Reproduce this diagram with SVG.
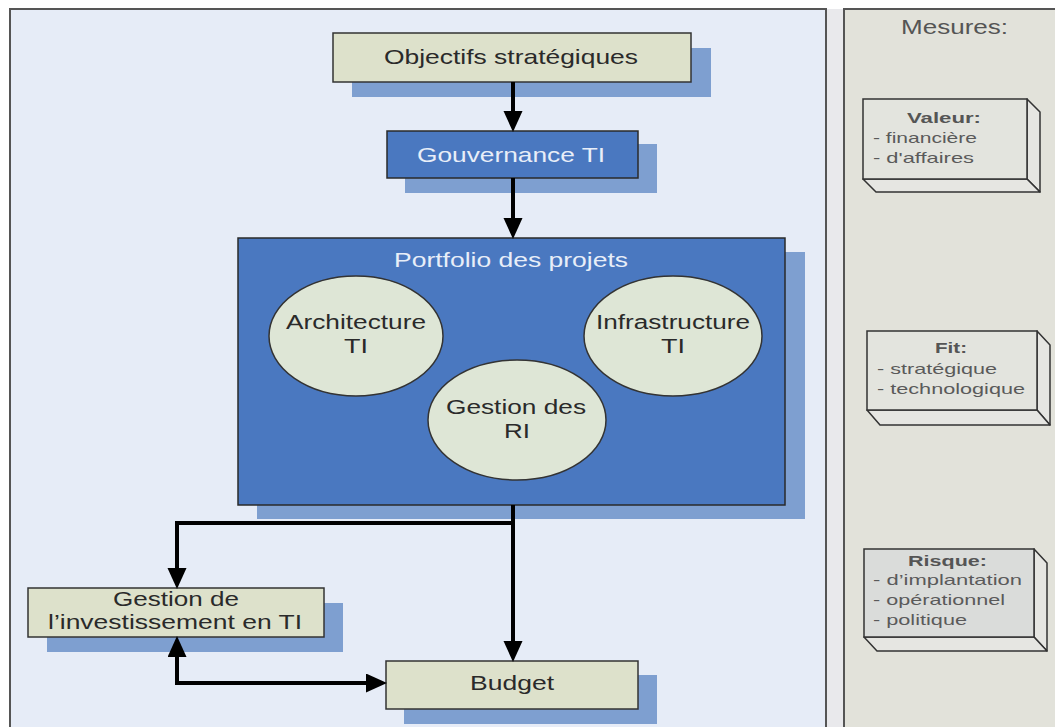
<svg xmlns="http://www.w3.org/2000/svg" width="1055" height="727" viewBox="0 0 1055 727">
<defs>
<style>
.t{font-family:"Liberation Sans",Arial,sans-serif;}
.dark{fill:#2a2a2a;font-size:21px;}
.light{fill:#E8EEF8;font-size:21px;}
.ell{fill:#2a2a2a;font-size:20px;}
.m{fill:#5a5a5a;font-size:15px;}
.mb{fill:#555;font-size:15px;font-weight:bold;}
.beige{fill:#DDE1CB;stroke:#333;stroke-width:1.5;}
.blue{fill:#4A78C0;stroke:#2a2a2a;stroke-width:1.5;}
.shadow{fill:#7E9FD0;}
.ellipse{fill:#DEE6D6;stroke:#333;stroke-width:1.5;}
.cube{fill:#E3E4DE;stroke:#333;stroke-width:1.5;}
.side{fill:#E6E6E2;stroke:#333;stroke-width:1.5;stroke-linejoin:round;}
.conn{fill:none;stroke:#000;stroke-width:4;stroke-linejoin:miter;}
</style>
<marker id="arr" markerUnits="userSpaceOnUse" markerWidth="22" markerHeight="20" refX="16" refY="9.5" orient="auto-start-reverse" viewBox="0 0 22 20">
<path d="M0,0 L21,9.5 L0,19 z" fill="#000"/>
</marker>
</defs>
<rect x="0" y="0" width="1055" height="727" fill="#ffffff"/>
<g id="panels">
<rect x="826" y="9" width="18" height="730" fill="#E9E9EC"/>
<rect x="10" y="9" width="816" height="730" fill="#E6ECF7" stroke="#555" stroke-width="2"/>
<rect x="844" y="9" width="230" height="730" fill="#E2E2DA" stroke="#555" stroke-width="2"/>
</g>
<g id="objectifs">
<rect class="shadow" x="352" y="48" width="359" height="49"/>
<rect class="beige" x="333" y="33" width="358" height="49"/>
<text class="t dark" x="384" y="64" font-size="22" textLength="254" lengthAdjust="spacingAndGlyphs">Objectifs stratégiques</text>
</g>
<g id="gouvernance">
<rect class="shadow" x="405" y="144" width="252" height="49"/>
<rect class="blue" x="387" y="131" width="251" height="47"/>
<text class="t light" x="417" y="162" textLength="188" lengthAdjust="spacingAndGlyphs">Gouvernance TI</text>
</g>
<g id="portfolio">
<rect class="shadow" x="257" y="252" width="548" height="267"/>
<rect class="blue" x="238" y="238" width="547" height="267"/>
<text class="t light" x="394" y="267" textLength="234" lengthAdjust="spacingAndGlyphs">Portfolio des projets</text>
</g>
<g id="architecture">
<ellipse class="ellipse" cx="356" cy="336" rx="87" ry="60"/>
<text class="t ell" x="286" y="329" textLength="140" lengthAdjust="spacingAndGlyphs">Architecture</text>
<text class="t ell" x="344" y="353" textLength="24" lengthAdjust="spacingAndGlyphs">TI</text>
</g>
<g id="infrastructure">
<ellipse class="ellipse" cx="673" cy="336" rx="89" ry="60"/>
<text class="t ell" x="596" y="329" textLength="154" lengthAdjust="spacingAndGlyphs">Infrastructure</text>
<text class="t ell" x="661" y="353" textLength="24" lengthAdjust="spacingAndGlyphs">TI</text>
</g>
<g id="gestion-ri">
<ellipse class="ellipse" cx="517" cy="420" rx="89" ry="60"/>
<text class="t ell" x="446" y="414" textLength="140" lengthAdjust="spacingAndGlyphs">Gestion des</text>
<text class="t ell" x="504" y="438" textLength="26" lengthAdjust="spacingAndGlyphs">RI</text>
</g>
<g id="gestion-investissement">
<rect class="shadow" x="47" y="603" width="296" height="49"/>
<rect class="beige" x="28" y="588" width="296" height="49"/>
<text class="t dark" x="113" y="606" font-size="20" textLength="126" lengthAdjust="spacingAndGlyphs">Gestion de</text>
<text class="t dark" x="48" y="629" font-size="20" textLength="254" lengthAdjust="spacingAndGlyphs">l’investissement en TI</text>
</g>
<g id="budget">
<rect class="shadow" x="404" y="675" width="253" height="49"/>
<rect class="beige" x="386" y="661" width="252" height="48"/>
<text class="t dark" x="470" y="690" font-size="20" textLength="84" lengthAdjust="spacingAndGlyphs">Budget</text>
</g>
<g id="connectors">
<path class="conn" d="M513,82 V127" marker-end="url(#arr)"/>
<path class="conn" d="M513,178 V234" marker-end="url(#arr)"/>
<path class="conn" d="M513,505 V657" marker-end="url(#arr)"/>
<path class="conn" d="M513,505 V523 H177 V584" marker-end="url(#arr)"/>
<path class="conn" d="M177,641 V683 H382" marker-start="url(#arr)" marker-end="url(#arr)"/>
</g>
<g id="mesures">
<text class="t" x="901" y="34" font-size="21" fill="#555" textLength="107" lengthAdjust="spacingAndGlyphs">Mesures:</text>
</g>
<g id="valeur">
<polygon class="side" points="1027,99 1040,112 1040,192 1027,179"/>
<polygon class="side" points="863,179 1027,179 1040,192 876,192"/>
<rect class="cube" x="863" y="99" width="164" height="80"/>
<text class="t mb" x="907" y="123" textLength="74" lengthAdjust="spacingAndGlyphs">Valeur:</text>
<text class="t m" x="873" y="143" textLength="104" lengthAdjust="spacingAndGlyphs">- financière</text>
<text class="t m" x="873" y="163" textLength="101" lengthAdjust="spacingAndGlyphs">- d'affaires</text>
</g>
<g id="fit">
<polygon class="side" points="1037,331 1050,345 1050,425 1037,410"/>
<polygon class="side" points="867,410 1037,410 1050,425 880,425"/>
<rect class="cube" x="867" y="331" width="170" height="79"/>
<text class="t mb" x="935" y="353" textLength="32" lengthAdjust="spacingAndGlyphs">Fit:</text>
<text class="t m" x="877" y="374" textLength="120" lengthAdjust="spacingAndGlyphs">- stratégique</text>
<text class="t m" x="877" y="394" textLength="148" lengthAdjust="spacingAndGlyphs">- technologique</text>
</g>
<g id="risque">
<polygon class="side" points="1034,549 1047,563 1047,651 1034,637"/>
<polygon class="side" points="864,637 1034,637 1047,651 877,651"/>
<rect class="cube" x="864" y="549" width="170" height="88" style="fill:#DADCDA"/>
<text class="t mb" x="908" y="566" textLength="79" lengthAdjust="spacingAndGlyphs">Risque:</text>
<text class="t m" x="873" y="585" textLength="149" lengthAdjust="spacingAndGlyphs">- d’implantation</text>
<text class="t m" x="873" y="605" textLength="132" lengthAdjust="spacingAndGlyphs">- opérationnel</text>
<text class="t m" x="873" y="625" textLength="94" lengthAdjust="spacingAndGlyphs">- politique</text>
</g>
</svg>
